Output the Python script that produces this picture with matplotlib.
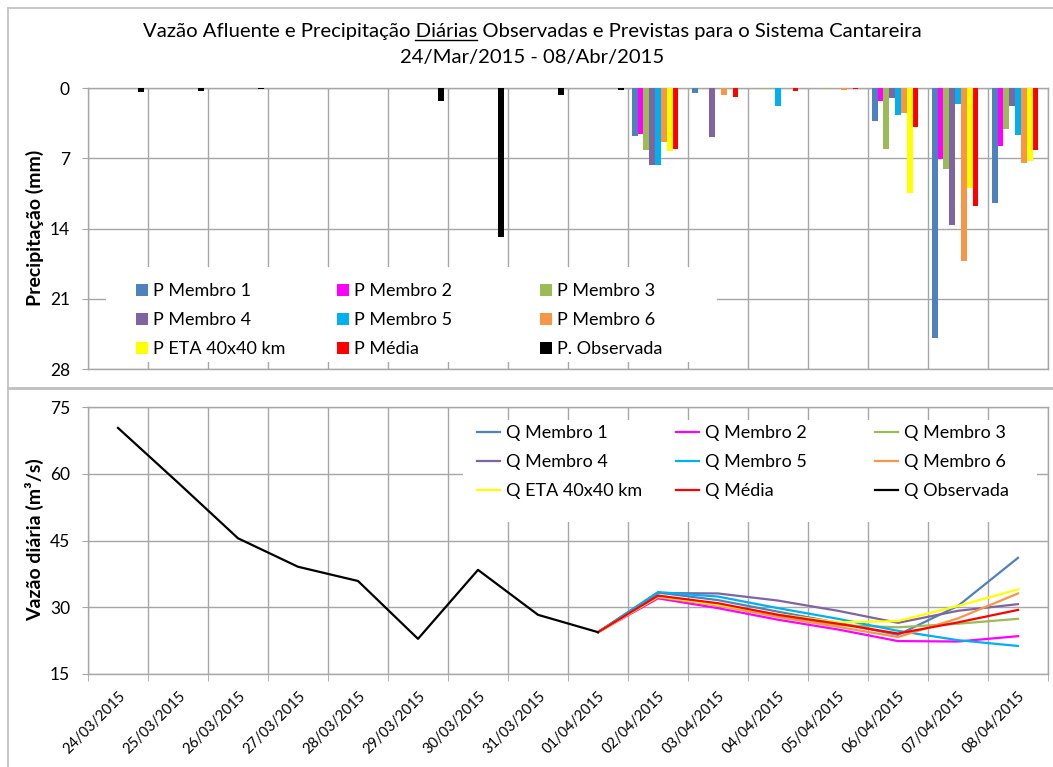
import numpy as np
import matplotlib
matplotlib.use("Agg")
import matplotlib.pyplot as plt
from matplotlib.patches import Rectangle
from matplotlib.lines import Line2D
from matplotlib.legend import Legend

plt.rcParams['font.family'] = ['Lato', 'DejaVu Sans']

nan = np.nan

dates = ['24/03/2015', '25/03/2015', '26/03/2015', '27/03/2015', '28/03/2015',
         '29/03/2015', '30/03/2015', '31/03/2015', '01/04/2015', '02/04/2015',
         '03/04/2015', '04/04/2015', '05/04/2015', '06/04/2015', '07/04/2015',
         '08/04/2015']

# Daily precipitation (mm): ensemble members, ETA, mean and observed
p_m1 = [0] * 9 + [4.8, 0.5, 0.0, 0.0, 3.25, 24.9, 11.5]
p_m2 = [0] * 9 + [4.6, 0.0, 0.0, 0.0, 1.3, 7.1, 5.8]
p_m3 = [0] * 9 + [6.2, 0.0, 0.1, 0.1, 6.1, 8.1, 4.1]
p_m4 = [0] * 9 + [7.7, 4.9, 0.0, 0.0, 1.0, 13.7, 1.8]
p_m5 = [0] * 9 + [7.7, 0.0, 1.8, 0.0, 2.7, 1.6, 4.7]
p_m6 = [0] * 9 + [5.4, 0.7, 0.0, 0.2, 2.5, 17.2, 7.5]
p_eta = [0] * 9 + [6.3, 0.0, 0.0, 0.0, 10.5, 10.0, 7.3]
p_med = [0] * 9 + [6.1, 0.9, 0.27, 0.05, 3.9, 11.8, 6.2]
p_obs = [0.4, 0.25, 0.13, 0.0, 0.0, 1.3, 14.8, 0.7, 0.15] + [0] * 7

# Daily inflow (m3/s)
q_obs = [70.3, 58.0, 45.5, 39.1, 35.9, 22.9, 38.4, 28.3, 24.4] + [nan] * 7
q_m1 = [nan] * 8 + [24.4, 33.3, 31.6, 29.0, 26.5, 23.8, 30.3, 41.1]
q_m2 = [nan] * 8 + [24.4, 32.0, 29.8, 27.2, 25.0, 22.4, 22.3, 23.5]
q_m3 = [nan] * 8 + [24.4, 32.6, 30.6, 28.0, 26.0, 25.5, 26.3, 27.4]
q_m4 = [nan] * 8 + [24.4, 33.2, 33.1, 31.5, 29.2, 26.5, 29.2, 30.7]
q_m5 = [nan] * 8 + [24.4, 33.4, 32.4, 29.8, 27.4, 24.7, 22.6, 21.3]
q_m6 = [nan] * 8 + [24.4, 32.3, 30.4, 27.8, 25.6, 23.3, 27.5, 33.1]
q_eta = [nan] * 8 + [24.4, 32.4, 30.6, 28.4, 26.6, 26.9, 30.3, 34.0]
q_med = [nan] * 8 + [24.4, 32.6, 30.9, 28.3, 26.3, 24.1, 26.6, 29.4]

colors = ['#4F81BD', '#FF00FF', '#9BBB59', '#8064A2', '#00B0F0',
          '#F79646', '#FFFF00', '#FF0000', '#000000']
p_labels = ['P Membro 1', 'P Membro 2', 'P Membro 3', 'P Membro 4', 'P Membro 5',
            'P Membro 6', 'P ETA 40x40 km', 'P Média', 'P. Observada']
q_labels = ['Q Membro 1', 'Q Membro 2', 'Q Membro 3', 'Q Membro 4', 'Q Membro 5',
            'Q Membro 6', 'Q ETA 40x40 km', 'Q Média', 'Q Observada']
p_series = [p_m1, p_m2, p_m3, p_m4, p_m5, p_m6, p_eta, p_med, p_obs]
q_series = [q_m1, q_m2, q_m3, q_m4, q_m5, q_m6, q_eta, q_med, q_obs]

W, H = 1053, 767
fig = plt.figure(figsize=(W / 100, H / 100), dpi=100)
fig.patch.set_facecolor('white')

GRID = '#A6A6A6'
TXT = '#000000'


def add_axes_px(left, top, right, bottom):
    return fig.add_axes([left / W, 1 - bottom / H, (right - left) / W, (bottom - top) / H])


def style_axes(ax):
    ax.set_xlim(-0.5, len(dates) - 0.5)
    ax.set_xticks(np.arange(len(dates)))
    ax.set_xticks(np.arange(len(dates) + 1) - 0.5, minor=True)
    ax.grid(axis='x', which='minor', color=GRID, lw=1.0)
    ax.grid(axis='y', which='major', color=GRID, lw=1.0)
    ax.set_axisbelow(True)
    for s in ax.spines.values():
        s.set_color(GRID)
        s.set_linewidth(1.0)
    ax.tick_params(axis='y', which='major', length=4, color=GRID, pad=9,
                   labelsize=12.5, labelcolor=TXT)
    ax.tick_params(axis='x', which='major', length=0)


x = np.arange(len(dates))

# ---- precipitation panel (inverted bars) ----
ax1 = add_axes_px(88, 88, 1048, 369)
style_axes(ax1)
bw = 0.0967
bar_handles = []
for i, (vals, c, lab) in enumerate(zip(p_series, colors, p_labels)):
    bc = ax1.bar(x + (i - 4) * bw, vals, width=bw, color=c, label=lab, zorder=3)
    bar_handles.append(bc)
ax1.set_ylim(28, 0)
ax1.set_yticks([0, 7, 14, 21, 28])
ax1.set_xticklabels([])
ax1.tick_params(axis='x', which='minor', length=0)

# ---- inflow panel ----
ax2 = add_axes_px(88, 407, 1048, 674)
style_axes(ax2)
line_handles = []
for vals, c, lab in zip(q_series, colors, q_labels):
    ln, = ax2.plot(x, vals, color=c, lw=1.6, label=lab, zorder=3)
    line_handles.append(ln)
ax2.set_ylim(15, 75)
ax2.set_yticks([15, 30, 45, 60, 75])
ax2.set_xticklabels(dates, rotation=45, ha='right', va='top',
                    rotation_mode='anchor', fontsize=10.5, color=TXT)
ax2.tick_params(axis='x', which='major', pad=11)
ax2.tick_params(axis='x', which='minor', length=5, color=GRID, direction='out')

# white legend backgrounds hiding the grid
ax1.add_patch(Rectangle((106 / W, 1 - 362 / H), (717 - 106) / W, (362 - 267) / H,
                        transform=fig.transFigure, facecolor='white',
                        edgecolor='none', zorder=2, clip_on=False))
ax2.add_patch(Rectangle((463 / W, 1 - 522 / H), (1037 - 463) / W, (522 - 420) / H,
                        transform=fig.transFigure, facecolor='white',
                        edgecolor='none', zorder=2, clip_on=False))


def column_legend(ax, handles, labels, x_px, y_px, hl, hh):
    leg = Legend(ax, handles, labels, loc='upper left',
                 bbox_to_anchor=(x_px / W, 1 - y_px / H),
                 bbox_transform=fig.transFigure, frameon=False,
                 fontsize=13, handlelength=hl, handleheight=hh,
                 handletextpad=0.3, labelspacing=0.72, borderpad=0,
                 borderaxespad=0)
    leg.set_zorder(5)
    ax.add_artist(leg)
    return leg


col_x_top = [136, 337, 540]
for c in range(3):
    idx = [c, c + 3, c + 6]
    column_legend(ax1, [bar_handles[i] for i in idx], [p_labels[i] for i in idx],
                  col_x_top[c], 283, 0.65, 0.65)

col_x_bot = [477, 676, 875]
for c in range(3):
    idx = [c, c + 3, c + 6]
    column_legend(ax2, [line_handles[i] for i in idx], [q_labels[i] for i in idx],
                  col_x_bot[c], 425, 1.3, 0.7)

# axis titles
fig.text(35 / W, 1 - 228 / H, 'Precipitação (mm)', rotation=90, ha='center',
         va='center', fontsize=14, fontweight='bold', color=TXT)
fig.text(35 / W, 1 - 540 / H, 'Vazão diária (m³/s)', rotation=90, ha='center',
         va='center', fontsize=14, fontweight='bold', color=TXT)

# chart title with underlined word
title1 = 'Vazão Afluente e Precipitação Diárias Observadas e Previstas para o Sistema Cantareira'
prefix = 'Vazão Afluente e Precipitação Diárias'
word = 'Diárias'
tsize = 14.6
t1 = fig.text(532 / W, 1 - 32 / H, title1, ha='center', va='center',
              fontsize=tsize, color=TXT)
fig.text(532 / W, 1 - 57 / H, '24/Mar/2015 - 08/Abr/2015', ha='center',
         va='center', fontsize=tsize, color=TXT)
renderer = fig.canvas.get_renderer()
bb = t1.get_window_extent(renderer)
tmp = fig.text(0, 0, prefix, fontsize=tsize)
w_prefix = tmp.get_window_extent(renderer).width
tmp.remove()
tmp = fig.text(0, 0, word, fontsize=tsize)
w_word = tmp.get_window_extent(renderer).width
tmp.remove()
x_end = bb.x0 + w_prefix
y_ul = bb.y0 + 1
fig.add_artist(Line2D([(x_end - w_word) / W, x_end / W], [y_ul / H, y_ul / H],
                      color=TXT, lw=1.0))

# chart frames
frame = '#BFBFBF'
fig.add_artist(Line2D([7.5 / W, 7.5 / W], [0, 1 - 7.5 / H], color=frame, lw=1.2))
fig.add_artist(Line2D([7.5 / W, 1], [1 - 7.5 / H, 1 - 7.5 / H], color=frame, lw=1.2))
fig.add_artist(Line2D([7.5 / W, 1], [1 - 388 / H, 1 - 388 / H], color=frame, lw=2.0))

fig.savefig('out.png', dpi=100, facecolor='white')
